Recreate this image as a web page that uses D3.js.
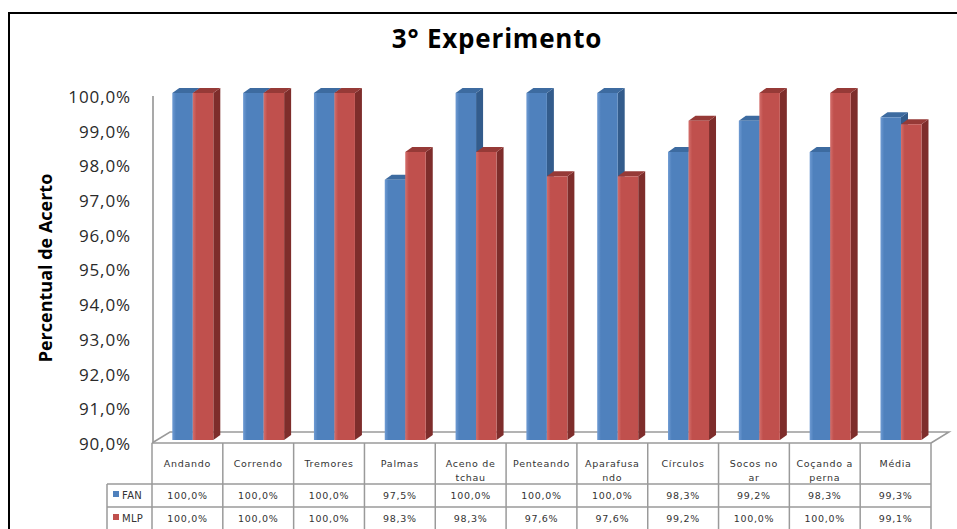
<!DOCTYPE html>
<html>
<head>
<meta charset="utf-8">
<script src="https://cdn.jsdelivr.net/npm/d3@7"></script>
<style>
  body { margin: 0; background: #fff; }
  svg { display: block; }
</style>
</head>
<body>
<script>
// dados do gráfico
var categorias = ["Andando", "Correndo", "Tremores", "Palmas", "Aceno de tchau", "Penteando",
  "Aparafusando", "Círculos", "Socos no ar", "Coçando a perna", "Média"];
var rotulos = [["Andando"], ["Correndo"], ["Tremores"], ["Palmas"], ["Aceno de", "tchau"], ["Penteando"],
  ["Aparafusa", "ndo"], ["Círculos"], ["Socos no", "ar"], ["Coçando a", "perna"], ["Média"]];
var series = ["FAN", "MLP"];
var fan = [100, 100, 100, 97.5, 100, 100, 100, 98.3, 99.2, 98.3, 99.3];
var mlp = [100, 100, 100, 98.3, 98.3, 97.6, 97.6, 99.2, 100, 100, 99.1];
var ticks = [90, 91, 92, 93, 94, 95, 96, 97, 98, 99, 100];

var cores = {
  FAN: { front: "#4f81bd", light: "#6f9bd3", top: "#3d6ba0", side: "#335c8c" },
  MLP: { front: "#c0504d", light: "#d46f6c", top: "#963a37", side: "#7e2d2b" }
};

var width = 957, height = 529;
var dx = 7, dy = 5;           // profundidade das barras
var fdx = 18, fdy = 11;       // profundidade do piso

var svg = d3.select("body").append("svg")
  .attr("width", width)
  .attr("height", height);

var defs = svg.append("defs");
series.forEach(function(s) {
  var g = defs.append("linearGradient").attr("id", "grad" + s)
    .attr("x1", "0%").attr("x2", "100%").attr("y1", "0%").attr("y2", "0%");
  g.append("stop").attr("offset", "0%").attr("stop-color", cores[s].light);
  g.append("stop").attr("offset", "18%").attr("stop-color", cores[s].front);
  g.append("stop").attr("offset", "100%").attr("stop-color", cores[s].front);
});

// borda externa
svg.append("rect")
  .attr("x", 9).attr("y", 13)
  .attr("width", 960).attr("height", 530)
  .attr("fill", "none")
  .attr("stroke", "#000")
  .attr("stroke-width", 2);

// titulo
svg.append("text")
  .attr("x", 497).attr("y", 48)
  .attr("text-anchor", "middle")
  .attr("font-family", "'Open Sans', sans-serif")
  .attr("font-weight", "bold")
  .attr("font-size", 26)
  .attr("letter-spacing", 0.8)
  .text("3° Experimento");

var loc = d3.formatLocale({ decimal: ",", thousands: ".", grouping: [3], currency: ["", ""] });
var fmt = loc.format(".1%");
var pct = function(d) { return fmt(d / 100); };

// Echelles
var x = d3.scaleBand().domain(categorias).range([152, 931]).padding(0);
var xs = d3.scaleBand().domain(series).range([20.3, 61.3]).padding(0);
var y = d3.scaleLinear().domain([90, 100]).range([440, 93]);

// eixo y (rotulos)
var yAxis = d3.axisLeft(y).tickValues(ticks).tickSize(0).tickPadding(0).tickFormat(pct);
var gy = svg.append("g")
  .attr("transform", "translate(131,4)")
  .call(yAxis);
gy.select(".domain").remove();
gy.selectAll("text")
  .attr("font-family", "'Open Sans', sans-serif")
  .attr("font-size", 17)
  .attr("letter-spacing", 0.9)
  .attr("fill", "#2a2a2a");

svg.append("line")
  .attr("x1", 153).attr("x2", 153)
  .attr("y1", 96).attr("y2", 443)
  .attr("stroke", "#8c8c8c").attr("stroke-width", 1.5);

svg.append("text")
  .attr("transform", "translate(52,268) rotate(-90)")
  .attr("text-anchor", "middle")
  .attr("font-family", "'Open Sans', sans-serif")
  .attr("font-weight", "bold")
  .attr("font-size", 18)
  .text("Percentual de Acerto");

// piso
var x0 = x.range()[0], x1 = x.range()[1], yf = 443;
svg.append("path")
  .attr("d", "M" + x0 + "," + yf + "L" + (x0 + fdx) + "," + (yf - fdy) +
    "L" + (x1 + fdx) + "," + (yf - fdy) + "L" + x1 + "," + yf)
  .attr("fill", "none")
  .attr("stroke", "#9a9a9a")
  .attr("stroke-width", 1.5);

// barras 3D
var dados = categorias.map(function(c, i) {
  return [{ cat: c, s: "FAN", v: fan[i] }, { cat: c, s: "MLP", v: mlp[i] }];
});

var grupos = svg.append("g").selectAll("g")
  .data(dados).enter().append("g")
  .attr("transform", function(d) { return "translate(" + x(d[0].cat) + ",0)"; });

var barras = grupos.selectAll("g").data(function(d) { return d; }).enter().append("g");

barras.each(function(d) {
  var g = d3.select(this);
  var bx = xs(d.s), w = xs.bandwidth();
  var yt = y(d.v), yb = y(90);
  g.append("polygon")
    .attr("points", [[bx + w, yt], [bx + w + dx, yt - dy], [bx + w + dx, yb - dy], [bx + w, yb]].join(" "))
    .attr("fill", cores[d.s].side);
  g.append("polygon")
    .attr("points", [[bx, yt], [bx + dx, yt - dy], [bx + w + dx, yt - dy], [bx + w, yt]].join(" "))
    .attr("fill", cores[d.s].top);
  g.append("rect")
    .attr("x", bx).attr("y", yt)
    .attr("width", w).attr("height", yb - yt)
    .attr("fill", "url(#grad" + d.s + ")");
});

// tabela de dados
var linhaCor = "#9a9a9a";
var tab = svg.append("g")
  .attr("font-family", "'DejaVu Sans', Verdana, sans-serif")
  .attr("font-size", 9.5)
  .attr("letter-spacing", 0.7)
  .attr("fill", "#333");

var rows = [443, 484, 507, 531];
rows.forEach(function(r, i) {
  tab.append("line")
    .attr("x1", i === 0 ? x0 : 107).attr("x2", x1)
    .attr("y1", r).attr("y2", r)
    .attr("stroke", linhaCor).attr("stroke-width", 1.5);
});
categorias.concat(["fim"]).forEach(function(c, i) {
  var xv = i < categorias.length ? x(c) : x1;
  tab.append("line")
    .attr("x1", xv).attr("x2", xv)
    .attr("y1", 443).attr("y2", 531)
    .attr("stroke", linhaCor).attr("stroke-width", 1.5);
});
tab.append("line")
  .attr("x1", 107).attr("x2", 107)
  .attr("y1", 484).attr("y2", 531)
  .attr("stroke", linhaCor).attr("stroke-width", 1.5);

// cabeçalho
categorias.forEach(function(c, i) {
  var t = tab.append("text")
    .attr("x", x(c) + x.bandwidth() / 2)
    .attr("y", 467)
    .attr("text-anchor", "middle");
  rotulos[i].forEach(function(l, j) {
    t.append("tspan")
      .attr("x", x(c) + x.bandwidth() / 2)
      .attr("dy", j === 0 ? 0 : 14)
      .text(l);
  });
});

// valores
[fan, mlp].forEach(function(vals, r) {
  var ty = r === 0 ? 499 : 522;
  vals.forEach(function(v, i) {
    tab.append("text")
      .attr("x", x(categorias[i]) + x.bandwidth() / 2)
      .attr("y", ty)
      .attr("text-anchor", "middle")
      .text(pct(v));
  });
  tab.append("rect")
    .attr("x", 113).attr("y", ty - 8)
    .attr("width", 6).attr("height", 6)
    .attr("fill", cores[series[r]].front);
  tab.append("text")
    .attr("x", 122).attr("y", ty)
    .attr("font-size", 10)
    .attr("letter-spacing", 0.3)
    .text(series[r]);
});
</script>
</body>
</html>
